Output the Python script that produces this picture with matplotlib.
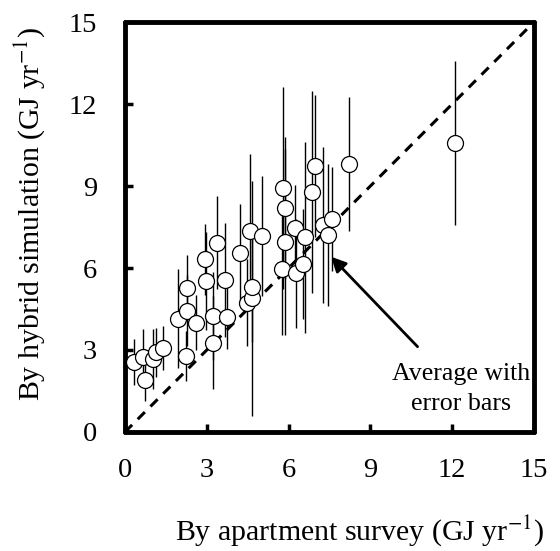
import matplotlib.pyplot as plt

plt.rcParams['font.family'] = ['Liberation Serif', 'DejaVu Serif']
plt.rcParams['mathtext.fontset'] = 'stix'

# survey values (x), simulated averages (y) and their error half-widths
survey = [0.33, 0.67, 0.73, 1.04, 1.12, 1.40, 1.95, 2.23, 2.27, 2.26,
          2.60, 2.93, 2.96, 3.21, 3.21, 3.38, 3.66, 3.74, 4.23, 4.48,
          4.64, 4.67, 4.60, 5.01, 5.77, 5.79, 5.85, 5.85, 6.22, 6.28,
          6.52, 6.59, 6.85, 6.95, 7.26, 7.46, 7.59, 8.21, 12.11]
simulated = [2.57, 2.76, 1.90, 2.66, 2.92, 3.06, 4.15, 2.78, 4.44, 5.26,
             4.00, 6.32, 5.52, 3.27, 4.24, 6.93, 5.56, 4.22, 6.56, 4.73,
             4.89, 5.29, 7.37, 7.17, 5.95, 8.92, 8.21, 6.96, 7.45, 5.81,
             6.15, 7.12, 8.77, 9.74, 7.57, 7.21, 7.78, 9.79, 10.56]
err = [0.85, 1.0, 0.75, 1.1, 0.9, 0.8, 1.8, 0.9, 1.3, 1.2,
       1.0, 1.3, 1.8, 1.7, 1.6, 1.7, 2.1, 1.2, 1.8, 1.6,
       4.3, 2.0, 2.8, 2.2, 2.4, 3.7, 2.6, 3.4, 1.6, 2.0,
       2.0, 3.5, 3.7, 2.6, 2.85, 2.6, 1.9, 2.45, 3.0]

ticks = [0, 3, 6, 9, 12, 15]

fig = plt.figure(figsize=(5.6, 5.51), dpi=100)
ax = fig.add_axes([0.2232, 0.216, 0.7304, 0.744])

# 1:1 line
ax.plot([0, 15], [0, 15], color='k', lw=2.2, dashes=(3.3, 2.6), zorder=1)

ax.errorbar(survey, simulated, yerr=err, fmt='o', ms=11.5, mfc='white',
            mec='k', mew=0.9, ecolor='k', elinewidth=1.0, capsize=0,
            zorder=3)

ax.set_xlim(0, 15)
ax.set_ylim(0, 15)
ax.set_xticks(ticks)
ax.set_yticks(ticks)
ax.tick_params(direction='in', length=6, width=2.5, labelsize=20.5)
ax.tick_params(axis='x', pad=19)
ax.tick_params(axis='y', pad=20)
for s in ax.spines.values():
    s.set_linewidth(3.5)
    s.set_capstyle('round')

ax.annotate('', xy=(7.56, 6.41), xytext=(10.73, 3.12),
            arrowprops=dict(arrowstyle='-|>', color='k', lw=2,
                            mutation_scale=22, shrinkA=0, shrinkB=0))
ax.text(12.33, 1.57, 'Average with\nerror bars', ha='center', va='center',
        fontsize=18.6, linespacing=1.45)

fig.text(360 / 560, 1 - 531 / 551, r'By apartment survey (GJ yr$^{-1}$)',
         ha='center', va='center', fontsize=21.5)
fig.text(30 / 560, 1 - 214 / 551, r'By hybrid simulation (GJ yr$^{-1}$)',
         ha='center', va='center', rotation=90, fontsize=21.5)

fig.savefig('out.png', dpi=100)
